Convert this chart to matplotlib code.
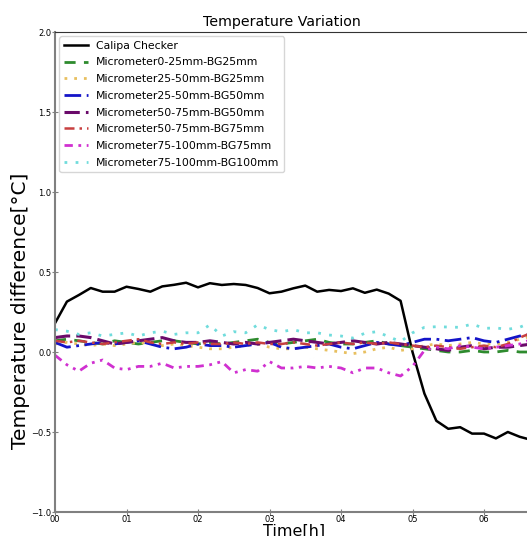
import matplotlib.pyplot as plt

# readings every 10 minutes, hours 0 .. 6.67
hours = [i / 6 for i in range(41)]

calipa = [0.18, 0.315, 0.356, 0.40, 0.377, 0.377, 0.408, 0.394, 0.377, 0.41,
          0.42, 0.433, 0.404, 0.43, 0.419, 0.425, 0.419, 0.40, 0.367, 0.377,
          0.398, 0.415, 0.377, 0.388, 0.381, 0.398, 0.37, 0.39, 0.365, 0.32,
          0.0, -0.26, -0.43, -0.48, -0.47, -0.51, -0.51, -0.54, -0.50, -0.53, -0.55]
mic_0_25_bg25 = [0.07, 0.08, 0.07, 0.06, 0.05, 0.07, 0.06, 0.05, 0.06, 0.07,
                 0.07, 0.06, 0.05, 0.06, 0.05, 0.06, 0.07, 0.08, 0.06, 0.05,
                 0.06, 0.07, 0.08, 0.06, 0.05, 0.05, 0.06, 0.07, 0.05, 0.04,
                 0.03, 0.02, 0.01, 0.00, 0.00, 0.01, 0.00, 0.00, 0.01, 0.00, 0.00]
mic_25_50_bg25 = [0.05, 0.06, 0.05, 0.04, 0.05, 0.04, 0.05, 0.06, 0.05, 0.04,
                  0.05, 0.04, 0.03, 0.02, 0.02, 0.03, 0.04, 0.05, 0.03, 0.02,
                  0.02, 0.03, 0.02, 0.01, 0.00, -0.01, 0.00, 0.02, 0.03, 0.01,
                  0.02, 0.04, 0.05, 0.04, 0.05, 0.06, 0.05, 0.05, 0.06, 0.08, 0.10]
mic_25_50_bg50 = [0.06, 0.03, 0.04, 0.05, 0.06, 0.05, 0.06, 0.07, 0.05, 0.03,
                  0.02, 0.03, 0.05, 0.04, 0.04, 0.03, 0.04, 0.05, 0.06, 0.03,
                  0.02, 0.03, 0.04, 0.05, 0.03, 0.02, 0.04, 0.06, 0.05, 0.04,
                  0.06, 0.08, 0.08, 0.07, 0.08, 0.09, 0.07, 0.06, 0.08, 0.10, 0.11]
mic_50_75_bg50 = [0.09, 0.10, 0.10, 0.09, 0.07, 0.05, 0.06, 0.07, 0.08, 0.09,
                  0.07, 0.06, 0.06, 0.07, 0.06, 0.05, 0.06, 0.05, 0.06, 0.07,
                  0.08, 0.07, 0.06, 0.05, 0.06, 0.07, 0.06, 0.05, 0.06, 0.05,
                  0.04, 0.03, 0.02, 0.01, 0.03, 0.04, 0.02, 0.03, 0.03, 0.04, 0.05]
mic_50_75_bg75 = [0.07, 0.06, 0.07, 0.06, 0.05, 0.06, 0.07, 0.08, 0.06, 0.05,
                  0.06, 0.05, 0.06, 0.05, 0.05, 0.06, 0.05, 0.06, 0.05, 0.05,
                  0.06, 0.05, 0.04, 0.05, 0.06, 0.05, 0.06, 0.05, 0.06, 0.05,
                  0.04, 0.03, 0.04, 0.03, 0.02, 0.03, 0.04, 0.03, 0.05, 0.09, 0.12]
mic_75_100_bg75 = [-0.02, -0.08, -0.12, -0.07, -0.05, -0.10, -0.11, -0.09, -0.09, -0.07,
                   -0.10, -0.09, -0.09, -0.08, -0.06, -0.13, -0.11, -0.12, -0.06, -0.10,
                   -0.10, -0.09, -0.10, -0.09, -0.10, -0.13, -0.10, -0.10, -0.13, -0.15,
                   -0.09, 0.01, 0.03, 0.02, 0.04, 0.03, 0.02, 0.03, 0.04, 0.05, 0.08]
mic_75_100_bg100 = [0.14, 0.13, 0.11, 0.12, 0.10, 0.11, 0.12, 0.10, 0.12, 0.13,
                    0.11, 0.12, 0.12, 0.17, 0.10, 0.127, 0.12, 0.17, 0.14, 0.127,
                    0.14, 0.12, 0.12, 0.106, 0.10, 0.087, 0.117, 0.127, 0.096, 0.065,
                    0.12, 0.154, 0.158, 0.156, 0.154, 0.175, 0.148, 0.15, 0.142, 0.155, 0.185]

hour_ticks = [0, 1, 2, 3, 4, 5, 6]
hour_labels = ['00', '01', '02', '03', '04', '05', '06']

fig = plt.figure(figsize=(5.27, 5.36), dpi=100)
ax = fig.add_axes([55 / 527, 24 / 536, 515 / 527, 480 / 536])

ax.plot(hours, calipa, color='black', lw=1.8, label='Calipa Checker')
ax.plot(hours, mic_0_25_bg25, color='#2e8b2e', lw=2, ls=(0, (4, 3)),
        label='Micrometer0-25mm-BG25mm')
ax.plot(hours, mic_25_50_bg25, color='#e8c060', lw=2, ls=(0, (1, 2.5)),
        label='Micrometer25-50mm-BG25mm')
ax.plot(hours, mic_25_50_bg50, color='#1414c8', lw=2, ls=(0, (6, 2, 1, 2)),
        label='Micrometer25-50mm-BG50mm')
ax.plot(hours, mic_50_75_bg50, color='#6a0a6a', lw=2.2, ls=(0, (5, 2)),
        label='Micrometer50-75mm-BG50mm')
ax.plot(hours, mic_50_75_bg75, color='#c84040', lw=1.8, ls=(0, (4, 2, 1, 2)),
        label='Micrometer50-75mm-BG75mm')
ax.plot(hours, mic_75_100_bg75, color='#d030d0', lw=2, ls=(0, (3, 2, 1, 2, 1, 2)),
        label='Micrometer75-100mm-BG75mm')
ax.plot(hours, mic_75_100_bg100, color='#70dcdc', lw=2, ls=(0, (1, 3)),
        label='Micrometer75-100mm-BG100mm')

ax.set_xlim(0, 515 / 71.5)
ax.set_ylim(-1.0, 2.0)
ax.set_yticks([-1.0, -0.5, 0.0, 0.5, 1.0, 1.5, 2.0])
ax.set_xticks(hour_ticks)
ax.set_xticklabels(hour_labels)
ax.tick_params(labelsize=6, direction='inout', length=5, color='gray', pad=0)

for side in ['left', 'bottom']:
    ax.spines[side].set_color('gray')
    ax.spines[side].set_linewidth(1.5)
ax.spines['top'].set_color('#333333')

ax.set_ylabel('Temperature difference[°C]', fontsize=14.5)
ax.yaxis.set_label_coords(-25 / 515, 0.42)
fig.text(282 / 527, 1 - 22 / 536, 'Temperature Variation', fontsize=10.2,
         ha='center', va='center')
fig.text(294 / 527, 1 - 524 / 536, 'Time[h]', fontsize=11.5, ha='center', va='top')

ax.legend(loc='upper left', fontsize=7.8, bbox_to_anchor=(0.0, 1.0),
          borderaxespad=0.4, handlelength=2.2, labelspacing=0.62)

plt.savefig('out.png', dpi=100)
